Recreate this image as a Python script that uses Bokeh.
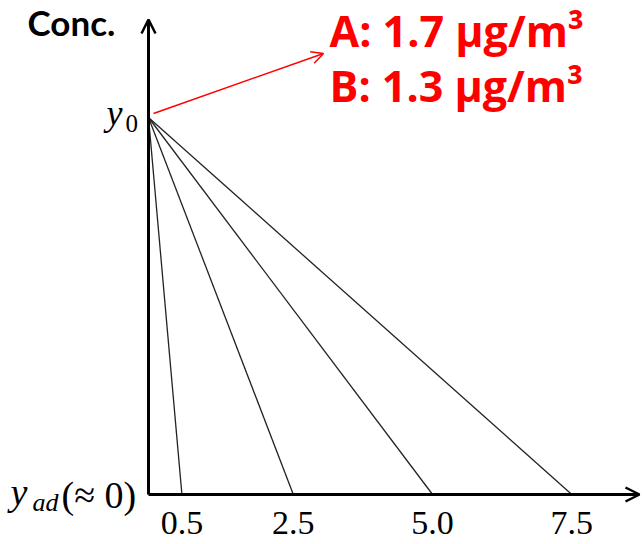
from bokeh.plotting import figure
from bokeh.models import Range1d, Arrow, OpenHead, Label, ColumnDataSource
from bokeh.core.properties import value
from bokeh.embed import file_html
from bokeh.resources import INLINE

# ---- data ----
intercepts = [0.5, 2.5, 5.0, 7.5]          # x where each line reaches y_ad
tick_labels = ["0.5", "2.5", "5.0", "7.5"]
y_start_value = 1.0                        # y0
y_ad_value = 0.0                           # y_ad (~0)
annotation_lines = ["A: 1.7 µg/m³", "B: 1.3 µg/m³"]
y_title = "Conc."

# ---- layout (canvas pixels -> data) ----
W, H = 642, 544
AXIS_PX, ORIGIN_PY = 148, 494
x_axis_pos = -0.1
px_per_x = 55.7
px_per_y = 377.0
BASE_SHIFT = 0.41   # svg text baseline compensation (fraction of font size)


def dx(px):
    return x_axis_pos + (px - AXIS_PX) / px_per_x


def dy(py):
    return (ORIGIN_PY - py) / px_per_y


def dyb(py, size):
    return dy(py - BASE_SHIFT * size)


p = figure(width=W, height=H, output_backend="svg", toolbar_location=None,
           x_range=Range1d(dx(0), dx(W)), y_range=Range1d(dy(H), dy(0)),
           x_axis_location=None, y_axis_location=None,
           min_border=0)
p.outline_line_color = None
p.grid.visible = False
p.background_fill_color = "white"
p.border_fill_color = "white"

# axes with arrowheads
p.add_layout(Arrow(end=OpenHead(size=14, line_width=2.5, line_color="black"),
                   x_start=x_axis_pos, y_start=y_ad_value,
                   x_end=x_axis_pos, y_end=dy(19),
                   line_width=3, line_color="black"))
p.add_layout(Arrow(end=OpenHead(size=14, line_width=2.5, line_color="black"),
                   x_start=x_axis_pos, y_start=y_ad_value,
                   x_end=dx(639), y_end=y_ad_value,
                   line_width=3, line_color="black"))

# concentration lines
src = ColumnDataSource(dict(
    x0=[x_axis_pos] * len(intercepts),
    y0=[y_start_value] * len(intercepts),
    x1=intercepts,
    y1=[y_ad_value] * len(intercepts),
    lab=tick_labels))
p.segment(x0="x0", y0="y0", x1="x1", y1="y1", source=src,
          line_color="#222222", line_width=1.3)

# tick labels
p.text(x="x1", y=dyb(536, 34), text="lab", source=src,
       text_font=value("Liberation Serif"), text_font_size="34px",
       text_align="center", text_baseline="alphabetic", text_color="black")

# red annotation arrow
p.add_layout(Arrow(end=OpenHead(size=12, line_width=1.5, line_color="red"),
                   x_start=dx(153), y_start=dy(113),
                   x_end=dx(323), y_end=dy(53),
                   line_width=1.5, line_color="red"))


def lab(text, px, py, font, size, style="normal", color="black"):
    p.add_layout(Label(x=dx(px), y=dyb(py, size), text=text, text_font=font,
                       text_font_size=f"{size}px", text_font_style=style,
                       text_color=color, text_align="left",
                       text_baseline="alphabetic"))


lab(y_title, 27, 36, "Lato", 35, "bold")
lab(annotation_lines[0], 329, 48, "Open Sans", 43, "bold", "red")
lab(annotation_lines[1], 329, 103, "Open Sans", 43, "bold", "red")

# y0 label
lab("y", 106, 127, "Liberation Serif", 36, "italic")
lab("0", 125, 133, "Liberation Serif", 25)
# y_ad label
lab("y", 10, 507, "Liberation Serif", 38, "italic")
lab("ad", 32, 513, "Liberation Serif", 26, "italic")
lab("(≈ 0)", 61, 510, "Liberation Serif", 38)

open("out.html", "w").write(file_html(p, INLINE))
